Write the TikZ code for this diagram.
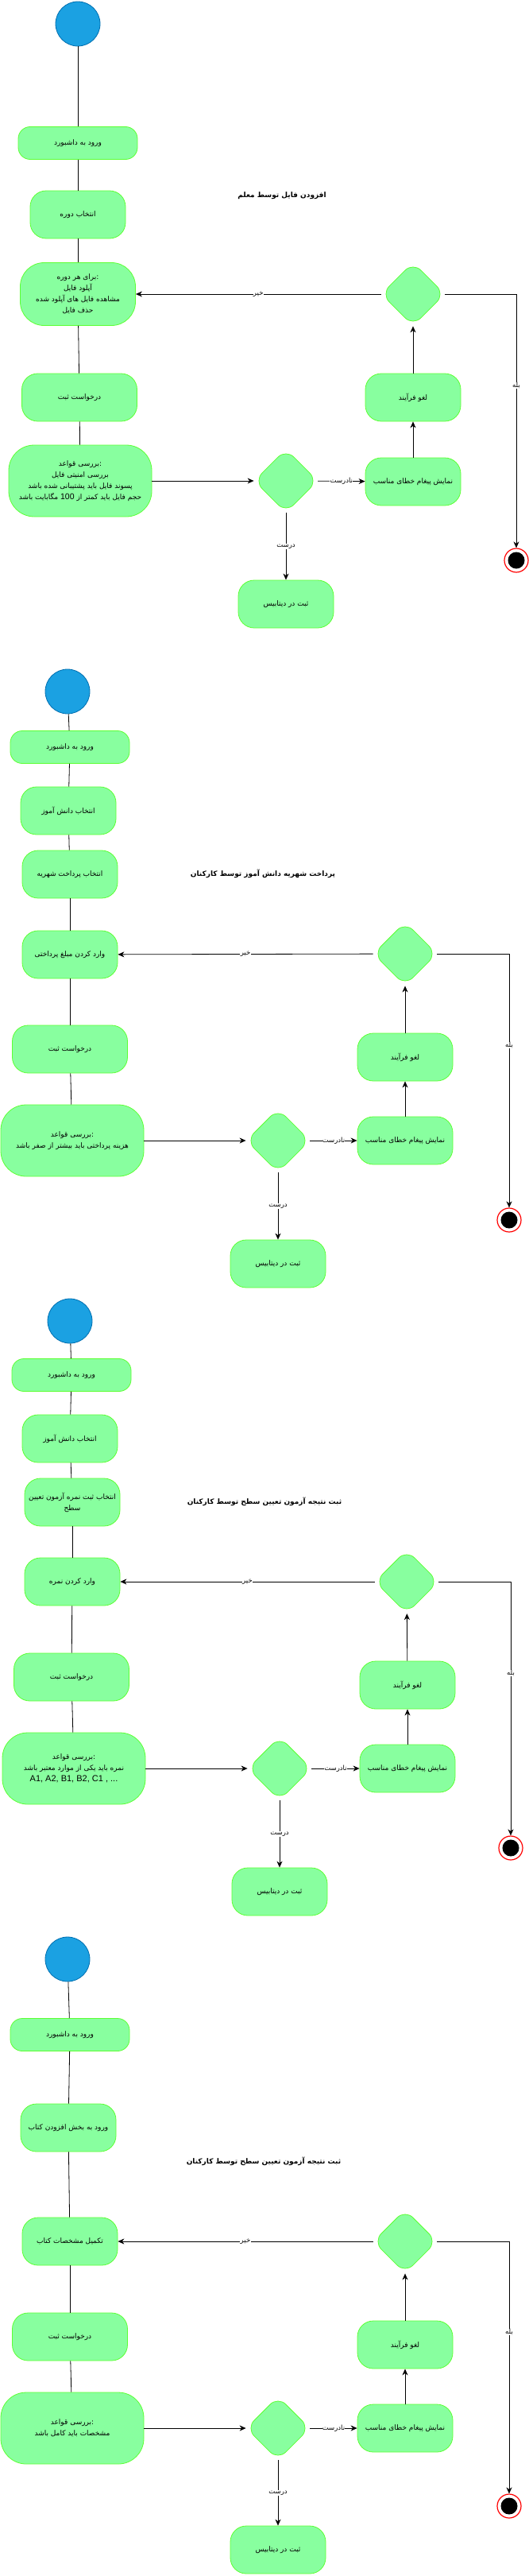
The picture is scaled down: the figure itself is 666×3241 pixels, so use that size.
\documentclass[tikz,border=0pt]{standalone}
\usepackage{fontspec}
\usetikzlibrary{shapes.geometric,arrows.meta}
\TeXXeTstate=1
\newfontfamily\ar[Script=Arabic]{DejaVu Sans}
\newfontfamily\lat{Liberation Sans}
\definecolor{boxfill}{HTML}{88FF9F}
\definecolor{boxline}{HTML}{5CFF33}
\definecolor{startfill}{HTML}{1BA1E2}
\definecolor{startline}{HTML}{006EAF}
\tikzset{
 act/.style={rectangle, draw=boxline, fill=boxfill, line width=0.8pt, align=center, inner sep=2pt, font=\ar\fontsize{9}{14}\selectfont, rounded corners=20pt, minimum width=120pt, minimum height=60pt},
 actw/.style={act, minimum width=145pt},
 actthin/.style={act, minimum width=150pt, minimum height=41pt, rounded corners=15pt},
 rules/.style={act, minimum width=180pt, minimum height=90pt, rounded corners=32pt},
 dec/.style={diamond, draw=boxline, fill=boxfill, line width=0.8pt, minimum width=80pt, minimum height=80pt, inner sep=0pt, rounded corners=14pt},
 startc/.style={circle, draw=startline, fill=startfill, minimum size=56pt, inner sep=0pt, line width=0.8pt},
 endc/.style={circle, draw=red, line width=1.2pt, minimum size=30pt, inner sep=0pt, fill=white},
 ln/.style={draw=black, line width=0.8pt},
 arr/.style={ln, -{Stealth[length=8pt,width=7pt,inset=2.5pt]}},
 lbl/.style={fill=white, inner sep=0.3pt, font=\ar\fontsize{8.5}{9}\selectfont},
 ttl/.style={font=\ar\bfseries\fontsize{9}{11}\selectfont},
}
\begin{document}
\begin{tikzpicture}[x=1pt,y=-1pt]
\useasboundingbox (0,0) rectangle (666,3241);
% ================= Diagram 1 =================
\node[ttl] (t1) at (355,246) {\beginR افزودن فایل توسط معلم\endR};
\node[startc] (s1) at (98,30) {};
\node[actthin] (b11) at (98,180) {\beginR ورود به داشبورد\endR};
\node[act] (b12) at (98,270) {\beginR انتخاب دوره\endR};
\node[actw, minimum height=79pt, rounded corners=30pt] (b13) at (98,370) {\beginR برای هر دوره\endR:\\ \beginR آپلود فایل\endR\\ \beginR مشاهده فایل های آپلود شده\endR\\ \beginR حذف فایل\endR};
\node[actw] (b14) at (100,500) {\beginR درخواست ثبت\endR};
\node[rules] (b15) at (101,605) {\beginR بررسی قواعد\endR:\\ \beginR بررسی امنیتی فایل\endR\\ \beginR پسوند فایل باید پشتیبانی شده باشد\endR\\ \beginR حجم فایل باید کمتر از \beginL{\lat\fontsize{10.5}{12}\selectfont 100}\endL{} مگابایت باشد\endR};
\node[dec] (d11) at (360,605) {};
\node[act] (b16) at (520,606) {\beginR نمایش پیغام خطای مناسب\endR};
\node[act] (b17) at (520,500) {\beginR لغو فرآیند\endR};
\node[dec] (d12) at (520,370) {};
\node[endc] (e1) at (650,705) {};
\fill (e1) circle (10.5);
\node[act] (b18) at (360,760) {\beginR ثبت در دیتابیس\endR};
\draw[ln] (s1) -- (b11);
\draw[ln] (b11) -- (b12);
\draw[ln] (b12) -- (b13);
\draw[ln] (b13) -- (b14);
\draw[ln] (b14) -- (b15);
\draw[arr] (b15) -- (d11);
\draw[arr] (d11) -- node[lbl]{\beginR نادرست\endR} (b16);
\draw[arr] (b16) -- (b17);
\draw[arr] (b17) -- (d12);
\draw[arr] (d12) -- node[lbl]{\beginR خیر\endR} (b13);
\draw[arr] (d12) -| node[lbl,pos=0.68]{\beginR بله\endR} (e1);
\draw[arr] (d11) -- node[lbl]{\beginR درست\endR} (b18);
% ================= Diagram 2 =================
\node[ttl] (t2) at (331,1099) {\beginR پرداخت شهریه دانش آموز توسط کارکنان\endR};
\node[startc] (s2) at (85,870) {};
\node[actthin] (b21) at (88,940) {\beginR ورود به داشبورد\endR};
\node[act] (b22) at (86,1020) {\beginR انتخاب دانش آموز\endR};
\node[act] (b23) at (88,1100) {\beginR انتخاب پرداخت شهریه\endR};
\node[act] (b24) at (88,1201) {\beginR وارد کردن مبلغ پرداختی\endR};
\node[actw] (b25) at (88,1320) {\beginR درخواست ثبت\endR};
\node[rules] (b26) at (91,1435) {\beginR بررسی قواعد\endR:\\ \beginR هزینه پرداختی باید بیشتر از صفر باشد\endR};
\node[dec] (d21) at (350,1435) {};
\node[act] (b27) at (510,1435) {\beginR نمایش پیغام خطای مناسب\endR};
\node[act] (b28) at (510,1330) {\beginR لغو فرآیند\endR};
\node[dec] (d22) at (510,1200) {};
\node[endc] (e2) at (641,1535) {};
\fill (e2) circle (10.5);
\node[act] (b29) at (350,1590) {\beginR ثبت در دیتابیس\endR};
\draw[ln] (s2) -- (b21);
\draw[ln] (b21) -- (b22);
\draw[ln] (b22) -- (b23);
\draw[ln] (b23) -- (b24);
\draw[ln] (b24) -- (b25);
\draw[ln] (b25) -- (b26);
\draw[arr] (b26) -- (d21);
\draw[arr] (d21) -- node[lbl]{\beginR نادرست\endR} (b27);
\draw[arr] (b27) -- (b28);
\draw[arr] (b28) -- (d22);
\draw[arr] (d22) -- node[lbl]{\beginR خیر\endR} (b24);
\draw[arr] (d22) -| node[lbl,pos=0.68]{\beginR بله\endR} (e2);
\draw[arr] (d21) -- node[lbl]{\beginR درست\endR} (b29);
% ================= Diagram 3 =================
\node[ttl] (t3) at (333,1889) {\beginR ثبت نتیجه آزمون تعیین سطح توسط کارکنان\endR};
\node[startc] (s3) at (88,1662) {};
\node[actthin] (b31) at (90,1730) {\beginR ورود به داشبورد\endR};
\node[act] (b32) at (88,1810) {\beginR انتخاب دانش آموز\endR};
\node[act] (b33) at (91,1890) {\beginR انتخاب ثبت نمره آزمون تعیین\endR\\ \beginR سطح\endR};
\node[act] (b34) at (91,1990) {\beginR وارد کردن نمره\endR};
\node[actw] (b35) at (90,2110) {\beginR درخواست ثبت\endR};
\node[rules] (b36) at (93,2225) {\beginR بررسی قواعد\endR:\\ \beginR نمره باید یکی از موارد معتبر باشد\endR\\ {\lat\fontsize{11}{13}\selectfont A1, A2, B1, B2, C1 , ...}};
\node[dec] (d31) at (352,2225) {};
\node[act] (b37) at (513,2225) {\beginR نمایش پیغام خطای مناسب\endR};
\node[act] (b38) at (513,2120) {\beginR لغو فرآیند\endR};
\node[dec] (d32) at (512,1990) {};
\node[endc] (e3) at (643,2325) {};
\fill (e3) circle (10.5);
\node[act] (b39) at (352,2380) {\beginR ثبت در دیتابیس\endR};
\draw[ln] (s3) -- (b31);
\draw[ln] (b31) -- (b32);
\draw[ln] (b32) -- (b33);
\draw[ln] (b33) -- (b34);
\draw[ln] (b34) -- (b35);
\draw[ln] (b35) -- (b36);
\draw[arr] (b36) -- (d31);
\draw[arr] (d31) -- node[lbl]{\beginR نادرست\endR} (b37);
\draw[arr] (b37) -- (b38);
\draw[arr] (b38) -- (d32);
\draw[arr] (d32) -- node[lbl]{\beginR خیر\endR} (b34);
\draw[arr] (d32) -| node[lbl,pos=0.68]{\beginR بله\endR} (e3);
\draw[arr] (d31) -- node[lbl]{\beginR درست\endR} (b39);
% ================= Diagram 4 =================
\node[ttl] (t4) at (332,2719) {\beginR ثبت نتیجه آزمون تعیین سطح توسط کارکنان\endR};
\node[startc] (s4) at (85,2465) {};
\node[actthin] (b41) at (88,2560) {\beginR ورود به داشبورد\endR};
\node[act] (b42) at (86,2677) {\beginR ورود به بخش افزودن کتاب\endR};
\node[act] (b43) at (88,2820) {\beginR تکمیل مشخصات کتاب\endR};
\node[actw] (b44) at (88,2940) {\beginR درخواست ثبت\endR};
\node[rules] (b45) at (91,3055) {\beginR بررسی قواعد\endR:\\ \beginR مشخصات باید کامل باشد\endR};
\node[dec] (d41) at (350,3055) {};
\node[act] (b47) at (510,3055) {\beginR نمایش پیغام خطای مناسب\endR};
\node[act] (b48) at (510,2950) {\beginR لغو فرآیند\endR};
\node[dec] (d42) at (510,2820) {};
\node[endc] (e4) at (641,3153) {};
\fill (e4) circle (10.5);
\node[act] (b49) at (350,3208) {\beginR ثبت در دیتابیس\endR};
\draw[ln] (s4) -- (b41);
\draw[ln] (b41) -- (b42);
\draw[ln] (b42) -- (b43);
\draw[ln] (b43) -- (b44);
\draw[ln] (b44) -- (b45);
\draw[arr] (b45) -- (d41);
\draw[arr] (d41) -- node[lbl]{\beginR نادرست\endR} (b47);
\draw[arr] (b47) -- (b48);
\draw[arr] (b48) -- (d42);
\draw[arr] (d42) -- node[lbl]{\beginR خیر\endR} (b43);
\draw[arr] (d42) -| node[lbl,pos=0.68]{\beginR بله\endR} (e4);
\draw[arr] (d41) -- node[lbl]{\beginR درست\endR} (b49);
\end{tikzpicture}
\end{document}
